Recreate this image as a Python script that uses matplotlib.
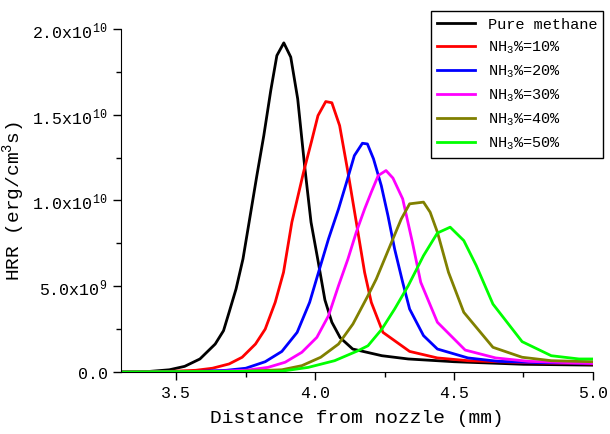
import numpy as np
import matplotlib.pyplot as plt
from matplotlib.ticker import MultipleLocator, FixedFormatter, FixedLocator

plt.rcParams['font.family'] = ['Liberation Mono', 'DejaVu Sans']
plt.rcParams['mathtext.fontset'] = 'custom'
plt.rcParams['mathtext.rm'] = 'Liberation Mono'
plt.rcParams['mathtext.it'] = 'Liberation Mono'

# HRR curves, values in units of 1e10 erg/(cm3 s)
x_ch4 = [3.30, 3.40, 3.475, 3.53, 3.585, 3.64, 3.67, 3.69, 3.715, 3.74, 3.76, 3.79, 3.815, 3.84,
         3.862, 3.887, 3.912, 3.937, 3.962, 3.985, 4.01, 4.035, 4.06, 4.09, 4.135, 4.24, 4.335,
         4.5, 4.75, 5.0]
y_ch4 = [0.0, 0.003, 0.013, 0.033, 0.076, 0.163, 0.241, 0.348, 0.484, 0.659, 0.853, 1.145, 1.378,
         1.640, 1.844, 1.918, 1.835, 1.592, 1.20, 0.873, 0.65, 0.42, 0.29, 0.20, 0.134, 0.095,
         0.076, 0.06, 0.045, 0.04]

x_10 = [3.3, 3.45, 3.57, 3.63, 3.69, 3.737, 3.785, 3.82, 3.856, 3.886, 3.916, 3.958, 3.986, 4.01,
        4.038, 4.06, 4.088, 4.118, 4.148, 4.178, 4.202, 4.244, 4.34, 4.44, 4.55, 4.75, 5.0]
y_10 = [0, 0.002, 0.01, 0.022, 0.047, 0.086, 0.163, 0.25, 0.406, 0.581, 0.873, 1.164, 1.339, 1.494,
        1.576, 1.569, 1.436, 1.164, 0.873, 0.58, 0.406, 0.231, 0.12, 0.082, 0.066, 0.055, 0.047]

x_20 = [3.3, 3.55, 3.68, 3.75, 3.82, 3.88, 3.935, 3.98, 4.012, 4.048, 4.084, 4.113, 4.141, 4.17,
        4.188, 4.21, 4.238, 4.262, 4.286, 4.315, 4.34, 4.39, 4.44, 4.55, 4.66, 4.8, 5.0]
y_20 = [0, 0.002, 0.01, 0.022, 0.06, 0.12, 0.231, 0.406, 0.581, 0.776, 0.95, 1.106, 1.261, 1.333,
        1.329, 1.242, 1.086, 0.911, 0.717, 0.523, 0.367, 0.212, 0.134, 0.082, 0.062, 0.055, 0.05]

x_30 = [3.3, 3.6, 3.75, 3.83, 3.892, 3.952, 4.006, 4.048, 4.084, 4.118, 4.148, 4.178, 4.202, 4.227,
        4.255, 4.28, 4.315, 4.35, 4.38, 4.44, 4.54, 4.65, 4.77, 5.0]
y_30 = [0, 0.002, 0.01, 0.027, 0.057, 0.115, 0.202, 0.328, 0.503, 0.659, 0.815, 0.95, 1.048, 1.145,
        1.174, 1.13, 1.009, 0.756, 0.523, 0.29, 0.128, 0.082, 0.062, 0.05]

x_40 = [3.3, 3.7, 3.88, 3.952, 4.02, 4.084, 4.136, 4.19, 4.22, 4.25, 4.28, 4.31, 4.34, 4.39, 4.414,
        4.44, 4.48, 4.535, 4.64, 4.745, 4.85, 5.0]
y_40 = [0, 0.002, 0.013, 0.037, 0.086, 0.163, 0.28, 0.445, 0.542, 0.659, 0.776, 0.892, 0.98, 0.99,
        0.931, 0.815, 0.581, 0.348, 0.144, 0.086, 0.066, 0.06]

x_50 = [3.3, 3.88, 3.975, 4.07, 4.154, 4.19, 4.24, 4.286, 4.335, 4.39, 4.44, 4.486, 4.535, 4.58,
        4.64, 4.745, 4.85, 4.95, 5.0]
y_50 = [0, 0.005, 0.027, 0.066, 0.124, 0.153, 0.25, 0.367, 0.503, 0.678, 0.81, 0.844, 0.766, 0.62,
        0.396, 0.177, 0.095, 0.076, 0.076]

labels = ['Pure methane', 'NH$_3$%=10%', 'NH$_3$%=20%', 'NH$_3$%=30%', 'NH$_3$%=40%', 'NH$_3$%=50%']
colors = ['black', 'red', 'blue', 'magenta', '#808000', '#00ff00']
series = [(x_ch4, y_ch4), (x_10, y_10), (x_20, y_20), (x_30, y_30), (x_40, y_40), (x_50, y_50)]

fig = plt.figure(figsize=(6.1, 4.35), dpi=100)
ax = fig.add_axes([0.198, 0.1425, 0.774, 0.789])

for (xs, ys), lab, c in zip(series, labels, colors):
    ax.plot(xs, np.array(ys) * 1e10, color=c, lw=2, label=lab)

ax.set_xlim(3.3, 5.0)
ax.set_ylim(0, 2.0e10)
ax.set_xticks([3.5, 4.0, 4.5, 5.0])
ax.set_xticklabels(['3.5', '4.0', '4.5', '5.0'])
ax.xaxis.set_minor_locator(MultipleLocator(0.25))
ax.yaxis.set_major_locator(FixedLocator([0, 5e9, 1e10, 1.5e10, 2e10]))
ax.yaxis.set_major_formatter(FixedFormatter(['0.0', '5.0x10$^{9}$', '1.0x10$^{10}$',
                                             '1.5x10$^{10}$', '2.0x10$^{10}$']))
ax.yaxis.set_minor_locator(MultipleLocator(2.5e9))
ax.tick_params(which='major', direction='out', length=6, width=1, labelsize=12)
ax.tick_params(which='minor', direction='out', length=3.5, width=1)

for s in ['top', 'right']:
    ax.spines[s].set_visible(False)

ax.set_xlabel('Distance from nozzle (mm)', fontsize=14, labelpad=6)
ax.set_ylabel('HRR (erg/cm$^3$s)', fontsize=14, labelpad=4)

leg = fig.legend(loc='upper right', bbox_to_anchor=(0.989, 0.972), borderaxespad=0,
                 fontsize=11, frameon=True, fancybox=False, edgecolor='black', framealpha=1,
                 handlelength=2.5, labelspacing=0.5, borderpad=0.4)
leg.get_frame().set_linewidth(1)

fig.savefig('out.png', dpi=100)
